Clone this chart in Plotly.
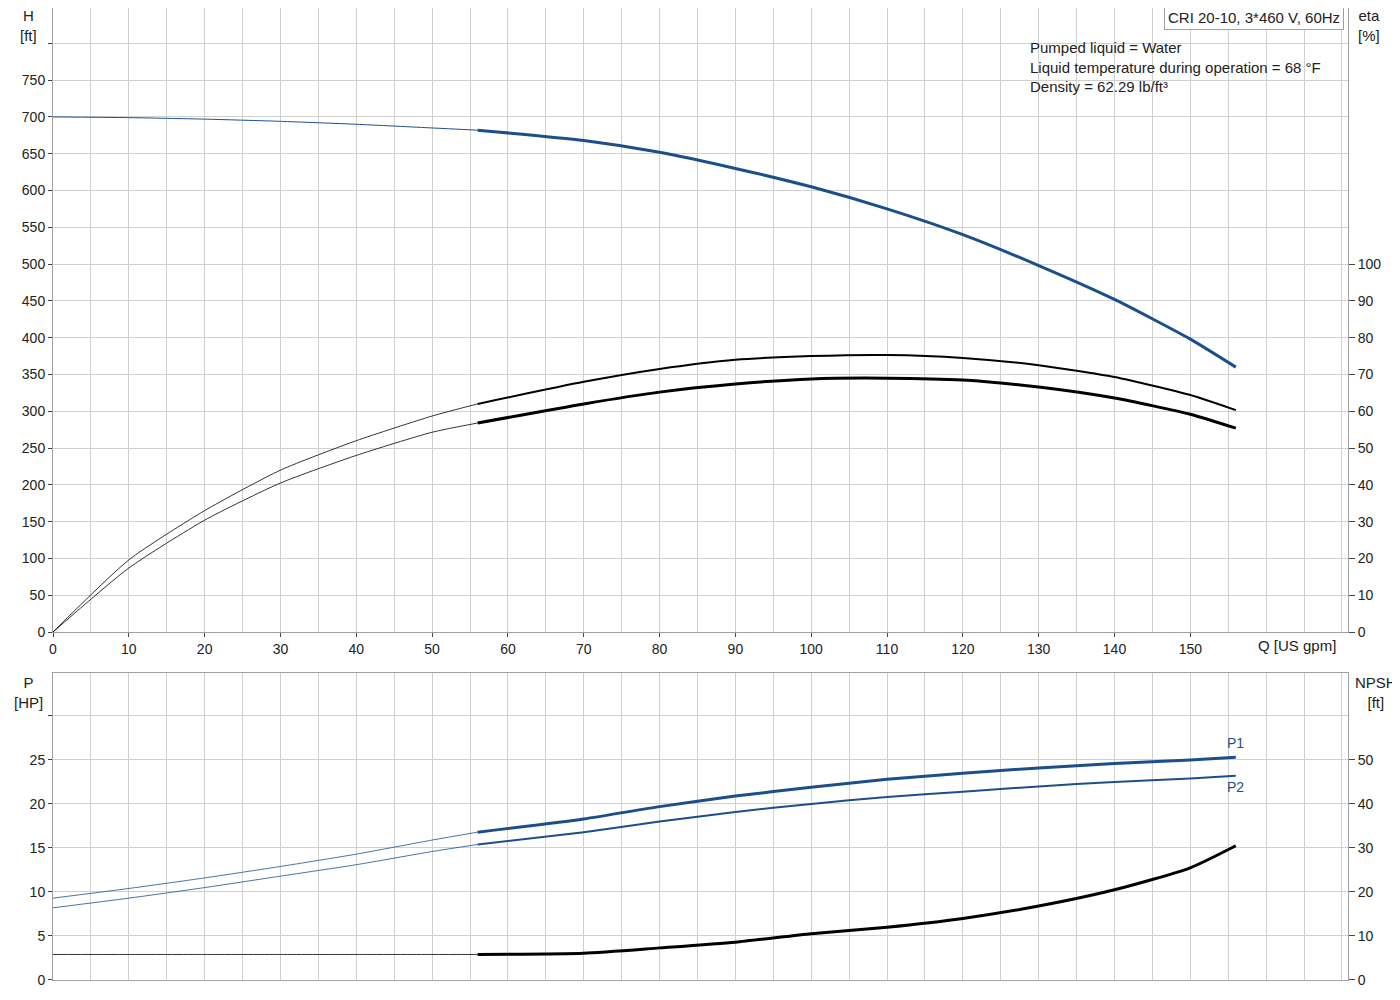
import plotly.graph_objects as go

BLUE = '#1c4f8a'
FONT = 'Liberation Sans, Arial'

# flow points (US gpm)
q = [0, 10, 20, 30, 40, 50, 56, 70, 80, 90, 100, 110, 120, 130, 140, 150, 156]
head = [700, 699, 697, 694, 690, 685, 682, 668, 652, 630, 605, 575, 540, 498, 452, 398, 360]
eta_pump = [0, 19.6, 33, 44, 52, 58.7, 62, 68, 71.5, 74, 75, 75.3, 74.5, 72.5, 69.3, 64.4, 60.3]
eta_total = [0, 17.4, 30.4, 40.5, 48, 54.3, 56.8, 62, 65.2, 67.4, 68.8, 69, 68.5, 66.6, 63.6, 59.2, 55.4]
p1 = [9.3, 10.4, 11.6, 12.9, 14.3, 15.9, 16.8, 18.3, 19.7, 20.9, 21.9, 22.8, 23.5, 24.1, 24.6, 25.0, 25.3]
p2 = [8.2, 9.3, 10.5, 11.8, 13.1, 14.6, 15.4, 16.8, 18.0, 19.1, 20.0, 20.8, 21.4, 22.0, 22.5, 22.9, 23.2]
npsh = [5.8, 5.8, 5.8, 5.8, 5.8, 5.8, 5.8, 6.1, 7.3, 8.6, 10.5, 12.0, 14.0, 16.8, 20.5, 25.5, 30.5]

h_ticks = list(range(0, 801, 50))
eta_ticks = list(range(0, 101, 10))
p_ticks = list(range(0, 31, 5))
npsh_ticks = list(range(0, 51, 10))
q_ticks = list(range(0, 151, 10))

split = q.index(56)

fig = go.Figure()

def curve(y, xa, ya, color, thin, thick):
    fig.add_trace(go.Scatter(x=q[:split + 1], y=y[:split + 1], mode='lines',
                             line=dict(color=color, width=thin, shape='spline', smoothing=0.6),
                             xaxis=xa, yaxis=ya, showlegend=False, hoverinfo='skip'))
    fig.add_trace(go.Scatter(x=q[split:], y=y[split:], mode='lines',
                             line=dict(color=color, width=thick, shape='spline', smoothing=0.6),
                             xaxis=xa, yaxis=ya, showlegend=False, hoverinfo='skip'))

curve(head, 'x', 'y', BLUE, 1, 3)
curve(eta_pump, 'x', 'y2', 'black', 0.8, 2)
curve(eta_total, 'x', 'y2', 'black', 0.8, 3)
curve(p1, 'x2', 'y3', BLUE, 0.8, 3)
curve(p2, 'x2', 'y3', BLUE, 0.8, 2)
curve(npsh, 'x2', 'y4', 'black', 0.8, 3)

grid = dict(showgrid=True, gridcolor='#d0d0d0', gridwidth=1, zeroline=False, showline=True, linecolor='#a0a0a0',
            tickfont=dict(size=14, color='#222'), automargin=False)
xr = [0, 170.8]
fig.update_layout(
    width=1400, height=1000, paper_bgcolor='white', plot_bgcolor='white',
    margin=dict(l=45, r=60, t=0, b=28), font=dict(family=FONT, size=14, color='#222'),
    xaxis=dict(grid, domain=[0, 1], range=xr, tickvals=q_ticks, anchor='y', ticks='outside', ticklen=4,
               minor=dict(dtick=5, showgrid=True, gridcolor='#d0d0d0'), mirror=True),
    yaxis=dict(grid, domain=[0.358, 1], range=[0, 848], tickvals=h_ticks,
               ticktext=[str(v) if v <= 750 else '' for v in h_ticks], ticks='outside', ticklen=4),
    yaxis2=dict(grid, overlaying='y', side='right', range=[0, 848 / 5], tickvals=eta_ticks, showgrid=False,
                ticks='outside', ticklen=6, anchor='x'),
    xaxis2=dict(grid, domain=[0, 1], range=xr, tickvals=q_ticks, showticklabels=False, anchor='y3',
                minor=dict(dtick=5, showgrid=True, gridcolor='#d0d0d0'), mirror=True),
    yaxis3=dict(grid, domain=[0, 0.316], range=[0, 34.9], tickvals=p_ticks,
                ticktext=[str(v) if v <= 25 else '' for v in p_ticks], anchor='x2', ticks='outside', ticklen=4),
    yaxis4=dict(grid, overlaying='y3', side='right', range=[0, 69.8], tickvals=npsh_ticks, showgrid=False,
                ticks='outside', ticklen=6, anchor='x2'),
)

ann = [
    dict(text='H<br>[ft]', xref='paper', yref='paper', x=-0.027, y=1.003, xanchor='left', yanchor='top', align='center'),
    dict(text='eta<br>[%]', xref='paper', yref='paper', x=1.006, y=1.003, xanchor='left', yanchor='top', align='center'),
    dict(text='P<br>[HP]', xref='paper', yref='paper', x=-0.032, y=0.317, xanchor='left', yanchor='top', align='center'),
    dict(text='NPSH<br>[ft]', xref='paper', yref='paper', x=1.004, y=0.317, xanchor='left', yanchor='top', align='center'),
    dict(text='Q [US gpm]', xref='x', yref='paper', x=160, y=0.355, xanchor='left', xshift=-10, yanchor='top', showarrow=False),
    dict(text='CRI 20-10, 3*460 V, 60Hz', xref='paper', yref='paper', x=0.997, y=1.003, xanchor='right', yanchor='top',
         bordercolor='#a0a0a0', borderwidth=1, bgcolor='white', borderpad=3),
    dict(text='Pumped liquid = Water<br>Liquid temperature during operation = 68 °F<br>Density = 62.29 lb/ft³',
         xref='paper', yref='paper', x=0.753, y=0.97, xanchor='left', yanchor='top', align='left',
         font=dict(size=15, color='#222')),
    dict(text='P1', xref='x2', yref='y3', x=156, y=25.3, xanchor='center', yanchor='bottom', yshift=4, font=dict(color=BLUE)),
    dict(text='P2', xref='x2', yref='y3', x=156, y=23.2, xanchor='center', yanchor='top', yshift=-1, font=dict(color=BLUE)),
]
for a in ann:
    a.setdefault('showarrow', False)
    a.setdefault('font', dict(size=15, color='#222'))
fig.update_layout(annotations=ann)

fig.write_html('out.html')
